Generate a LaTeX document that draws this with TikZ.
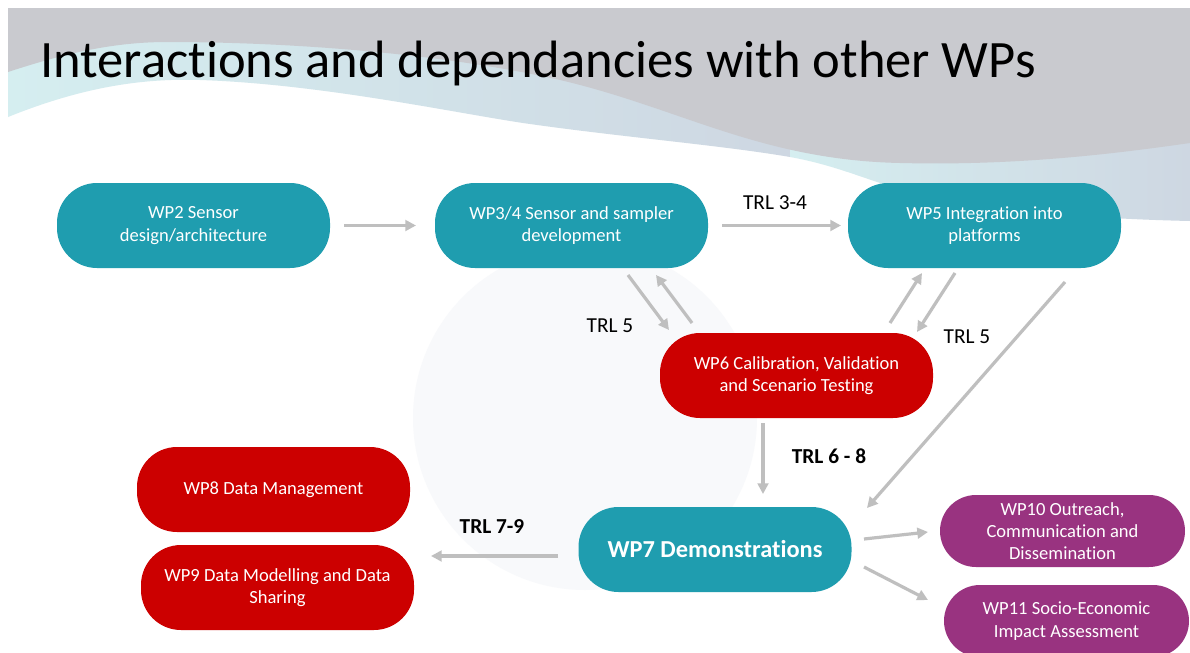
\documentclass[tikz,border=0pt]{standalone}
\usepackage{fontspec}
\setmainfont{Carlito}[Ligatures={NoCommon},RawFeature={-liga}]
\usetikzlibrary{arrows.meta}
\definecolor{teal1}{RGB}{31,157,175}
\definecolor{red1}{RGB}{204,0,0}
\definecolor{purp}{RGB}{153,51,128}
\definecolor{arrg}{RGB}{191,191,191}
\definecolor{slgray}{RGB}{201,202,207}
\definecolor{bandc}{RGB}{213,238,240}
\definecolor{bandb}{RGB}{206,215,226}
\definecolor{wmark}{RGB}{248,249,251}
\begin{document}
\begin{tikzpicture}[x=0.75pt,y=-0.75pt,
  pill/.style={rounded corners=30pt, minimum width=204.75pt, minimum height=63.75pt,
    text=white, align=center, font=\fontsize{13.9}{16.7}\selectfont, inner sep=0pt},
  tealpill/.style={pill, fill=teal1},
  redpill/.style={pill, fill=red1},
  purppill/.style={pill, fill=purp, rounded corners=27pt, minimum width=183.75pt, minimum height=54pt},
  conn/.style={draw=arrg, line width=2.4pt, -{Triangle[length=8pt,width=8pt]}},
  trl/.style={font=\fontsize{16}{19}\selectfont, inner sep=0pt},
  trlb/.style={font=\fontsize{16}{19}\selectfont\bfseries, inner sep=0pt}]
\useasboundingbox (0,0) rectangle (1190,653);
\fill[white] (0,0) rectangle (1190,653);
% background band and grey wave
\shade[left color=bandc, right color=bandb]
  (8,8) -- (8,117) .. controls (80,88) and (140,78) .. (200,80)
  .. controls (320,84) and (450,112) .. (523,123)
  .. controls (620,137) and (720,145) .. (790,157) -- (790,8) -- cycle;
\shade[left color=bandc, right color=bandb]
  (790,8) -- (790,157) .. controls (840,166) and (870,182) .. (920,195)
  .. controls (1000,212) and (1100,219) .. (1190,221) -- (1190,8) -- cycle;
\fill[slgray] (8,8) -- (8,72) .. controls (60,55) and (110,42) .. (167,42)
  .. controls (300,42) and (450,55) .. (560,80)
  .. controls (680,108) and (760,160) .. (900,163)
  .. controls (1020,166) and (1120,153) .. (1190,143) -- (1190,8) -- cycle;
% watermark
\fill[wmark] (585,418) circle[radius=172];
% title
\node[anchor=base west, inner sep=0pt, font=\fontsize{39.4}{45}\selectfont] (title) at (40,77)
  {Interactions and dependancies with other WPs};
% nodes
\node[tealpill] (wp2) at (193.5,225.5) {WP2 Sensor\\design/architecture};
\node[tealpill] (wp34) at (571.5,225.5) {WP3/4 Sensor and sampler\\development};
\node[tealpill] (wp5) at (984.5,225.5) {WP5 Integration into\\platforms};
\node[redpill] (wp6) at (796.5,375.5) {WP6 Calibration, Validation\\and Scenario Testing};
\node[tealpill, font=\fontsize{18.3}{22}\selectfont\bfseries] (wp7) at (715,549.5) {WP7 Demonstrations};
\node[redpill] (wp8) at (273.5,489.5) {WP8 Data Management};
\node[redpill] (wp9) at (277.5,587.5) {WP9 Data Modelling and Data\\Sharing};
\node[purppill] (wp10) at (1062.5,531) {WP10 Outreach,\\Communication and\\Dissemination};
\node[purppill] (wp11) at (1066.5,621) {WP11 Socio-Economic\\Impact Assessment};
% connector end points
\coordinate (c1s) at (344,225.5); \coordinate (c1e) at (416,225.5);
\coordinate (c2s) at (722,225.5); \coordinate (c2e) at (841,225.5);
\coordinate (c3s) at (628,275);   \coordinate (c3e) at (669,330);
\coordinate (c4s) at (692,323);   \coordinate (c4e) at (656,275);
\coordinate (c5s) at (890,323);   \coordinate (c5e) at (922,273);
\coordinate (c6s) at (955,273);   \coordinate (c6e) at (917,332);
\coordinate (c7s) at (1065,282);  \coordinate (c7e) at (867,508);
\coordinate (c8s) at (763,423);   \coordinate (c8e) at (763,494);
\coordinate (c9s) at (558,556);   \coordinate (c9e) at (431,556);
\coordinate (c10s) at (864,539);  \coordinate (c10e) at (928,532);
\coordinate (c11s) at (864,567);  \coordinate (c11e) at (928,600);
\draw[conn] (c1s) -- (c1e);
\draw[conn] (c2s) -- (c2e);
\draw[conn] (c3s) -- (c3e);
\draw[conn] (c4s) -- (c4e);
\draw[conn] (c5s) -- (c5e);
\draw[conn] (c6s) -- (c6e);
\draw[conn] (c7s) -- (c7e);
\draw[conn] (c8s) -- (c8e);
\draw[conn] (c9s) -- (c9e);
\draw[conn] (c10s) -- (c10e);
\draw[conn] (c11s) -- (c11e);
% labels
\node[trl] (l34) at (775,203) {TRL 3-4};
\node[trl] (l5a) at (610,326) {TRL 5};
\node[trl] (l5b) at (967,337) {TRL 5};
\node[trlb] (l68) at (829,456) {TRL 6 - 8};
\node[trlb] (l79) at (492,527) {TRL 7-9};
\end{tikzpicture}
\end{document}
